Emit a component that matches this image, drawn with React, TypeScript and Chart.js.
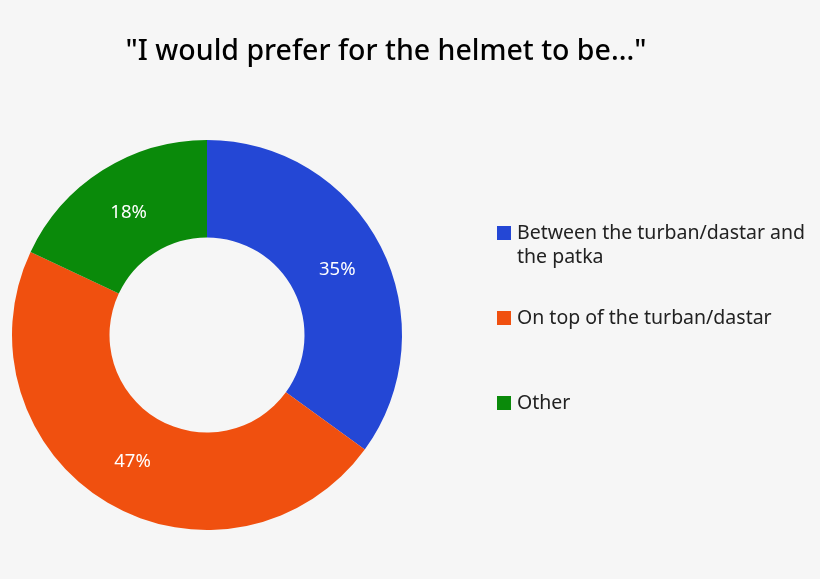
import React, { useEffect, useRef } from "react";
import { Chart, registerables } from "chart.js";

Chart.register(...registerables);

const TITLE = '"I would prefer for the helmet to be..."';
const CATEGORIES = [
  "Between the turban/dastar and the patka",
  "On top of the turban/dastar",
  "Other",
];
const VALUES = [35, 47, 18];
const COLORS = ["#2447D5", "#F0500F", "#0A8A0A"];
const BG = "#F6F6F6";

export default function App() {
  const ref = useRef<HTMLCanvasElement | null>(null);

  useEffect(() => {
    document.body.style.margin = "0";
    document.body.style.background = BG;
    const canvas = ref.current;
    if (!canvas) return;

    const overlay = {
      id: "overlay",
      beforeDraw(chart: any) {
        const { ctx, width, height } = chart;
        ctx.save();
        ctx.fillStyle = BG;
        ctx.fillRect(0, 0, width, height);
        ctx.restore();
      },
      afterDatasetsDraw(chart: any) {
        const { ctx } = chart;
        const meta = chart.getDatasetMeta(0);
        const total = VALUES.reduce((a, b) => a + b, 0);
        ctx.save();
        ctx.fillStyle = "#FFFFFF";
        ctx.font = "18.5px 'Noto Sans'";
        ctx.textAlign = "center";
        ctx.textBaseline = "middle";
        meta.data.forEach((arc: any, i: number) => {
          const p = arc.tooltipPosition();
          const pct = Math.round((VALUES[i] / total) * 100);
          ctx.fillText(pct + "%", p.x, p.y + 1);
        });
        ctx.restore();
      },
      afterDraw(chart: any) {
        const { ctx, width } = chart;
        ctx.save();
        // title
        ctx.fillStyle = "#000000";
        ctx.font = "500 28.5px 'Noto Sans'";
        ctx.textAlign = "center";
        ctx.textBaseline = "middle";
        ctx.fillText(TITLE, 386, 52);
        // legend
        ctx.font = "19.5px 'Noto Sans'";
        ctx.textAlign = "left";
        ctx.textBaseline = "middle";
        const boxX = 497;
        const box = 14;
        const textX = 517;
        const maxW = width - textX - 2;
        const startY = 233;
        const pitch = 85;
        const lineH = 24;
        CATEGORIES.forEach((label, i) => {
          const y = startY + i * pitch;
          ctx.fillStyle = COLORS[i];
          ctx.fillRect(boxX, y - box / 2, box, box);
          ctx.fillStyle = "#222222";
          const words = label.split(" ");
          const lines: string[] = [];
          let cur = "";
          words.forEach((w) => {
            const t = cur ? cur + " " + w : w;
            if (ctx.measureText(t).width > maxW && cur) {
              lines.push(cur);
              cur = w;
            } else cur = t;
          });
          if (cur) lines.push(cur);
          lines.forEach((ln, k) => ctx.fillText(ln, textX, y + k * lineH));
        });
        ctx.restore();
      },
    };

    const chart = new Chart(canvas, {
      type: "doughnut",
      data: {
        labels: CATEGORIES,
        datasets: [
          {
            data: VALUES,
            backgroundColor: COLORS,
            borderWidth: 0,
          },
        ],
      },
      options: {
        responsive: false,
        animation: false,
        cutout: "50%",
        layout: { padding: { left: 12, right: 418, top: 140, bottom: 49 } },
        plugins: {
          legend: { display: false },
          title: { display: false },
          tooltip: { enabled: false },
        },
      },
      plugins: [overlay],
    });
    return () => chart.destroy();
  }, []);

  return <canvas ref={ref} width={820} height={579} style={{ display: "block" }} />;
}
